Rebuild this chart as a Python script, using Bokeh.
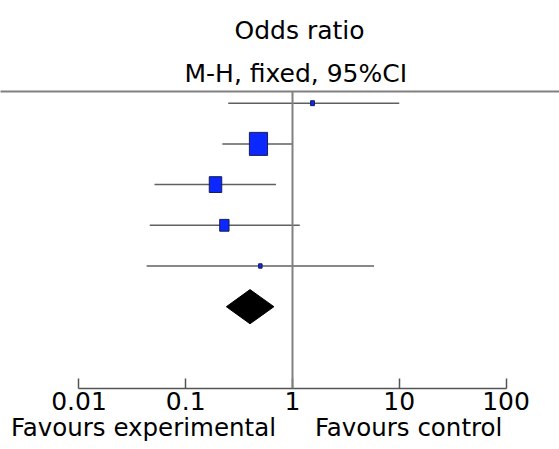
import math

from bokeh.embed import file_html
from bokeh.models import (ColumnDataSource, CustomJSTickFormatter, FixedTicker,
                          LinearAxis, Range1d, Span, Title)
from bokeh.plotting import figure
from bokeh.resources import INLINE

# Study rows (top to bottom): odds ratio, 95% CI, weight (%)
study_row = [1, 2, 3, 4, 5]
study_or = [1.54, 0.48, 0.19, 0.23, 0.50]
ci_low = [0.25, 0.22, 0.051, 0.046, 0.043]
ci_high = [10.0, 1.0, 0.70, 1.17, 5.8]
weight = [2.5, 55.0, 26.0, 14.5, 2.0]

# Pooled estimate (M-H, fixed)
pooled_row = 6
pooled_or = 0.40
pooled_low = 0.24
pooled_high = 0.67

tick_values = [0.01, 0.1, 1, 10, 100]

FONT = "DejaVu Sans"
LINE = "#808080"
NBSP = "\u00a0"

p = figure(
    width=559, height=449,
    x_axis_type="log",
    x_range=Range1d(0.00184, 317),
    y_range=Range1d(8.01, 0.713),
    output_backend="svg", toolbar_location=None,
    min_border_left=0, min_border_right=0,
    min_border_top=91, min_border_bottom=61,
    outline_line_color=None, background_fill_color="white",
    border_fill_color="white",
)
p.grid.visible = False
p.yaxis.visible = False

# x axis: odds ratio on a log scale, ticks pointing up into the plot
xa = p.xaxis[0]
xa.ticker = FixedTicker(ticks=tick_values)
xa.formatter = CustomJSTickFormatter(code="return tick.toString();")
xa.bounds = (0.01, 100)
xa.axis_line_color = "#555555"
xa.axis_line_width = 1.5
xa.major_tick_line_color = "#555555"
xa.major_tick_line_width = 1.5
xa.major_tick_in = 10
xa.major_tick_out = 0
xa.minor_tick_line_color = None
xa.major_label_standoff = 3
xa.major_label_text_font = FONT
xa.major_label_text_font_size = "25px"
xa.major_label_text_color = "black"
# direction of effect under the axis
xa.axis_label = ("Favours experimental" + NBSP * 5 + "Favours control" + NBSP * 6)
xa.axis_label_text_font = FONT
xa.axis_label_text_font_size = "24.5px"
xa.axis_label_text_font_style = "normal"
xa.axis_label_text_color = "black"
xa.axis_label_standoff = 0

# rule across the top of the plot area
top = LinearAxis(ticker=FixedTicker(ticks=[]), major_label_text_font_size="0px",
                 major_label_standoff=0,
                 major_tick_line_color=None, minor_tick_line_color=None,
                 axis_line_color=LINE, axis_line_width=2)
p.add_layout(top, "above")

# column heading
p.add_layout(Title(text="M-H, fixed, 95%CI", align="left", offset=184, standoff=7,
                   text_font=FONT, text_font_size="25px", text_font_style="normal",
                   text_color="black"), "above")
p.add_layout(Title(text="Odds ratio", align="left", offset=234, standoff=18,
                   text_font=FONT, text_font_size="25px", text_font_style="normal",
                   text_color="black"), "above")

# line of no effect
p.add_layout(Span(location=1, dimension="height", line_color=LINE, line_width=2))

# confidence intervals
src = ColumnDataSource(dict(
    row=study_row, or_=study_or, lo=ci_low, hi=ci_high,
    bw=[2.45 * math.sqrt(w) for w in weight],
    bh=[3.1 * math.sqrt(w) for w in weight],
))
p.segment(x0="lo", y0="row", x1="hi", y1="row", source=src,
          line_color="#606060", line_width=1.5)

# study boxes sized by weight
p.rect(x="or_", y="row", width="bw", height="bh", source=src,
       width_units="screen", height_units="screen",
       fill_color="#0a28ff", line_color="#1c1c50", line_width=1)

# pooled diamond
half = 0.42
p.patch(x=[pooled_low, pooled_or, pooled_high, pooled_or],
        y=[pooled_row, pooled_row - half, pooled_row, pooled_row + half],
        fill_color="black", line_color="black")

open("out.html", "w").write(file_html(p, INLINE))
